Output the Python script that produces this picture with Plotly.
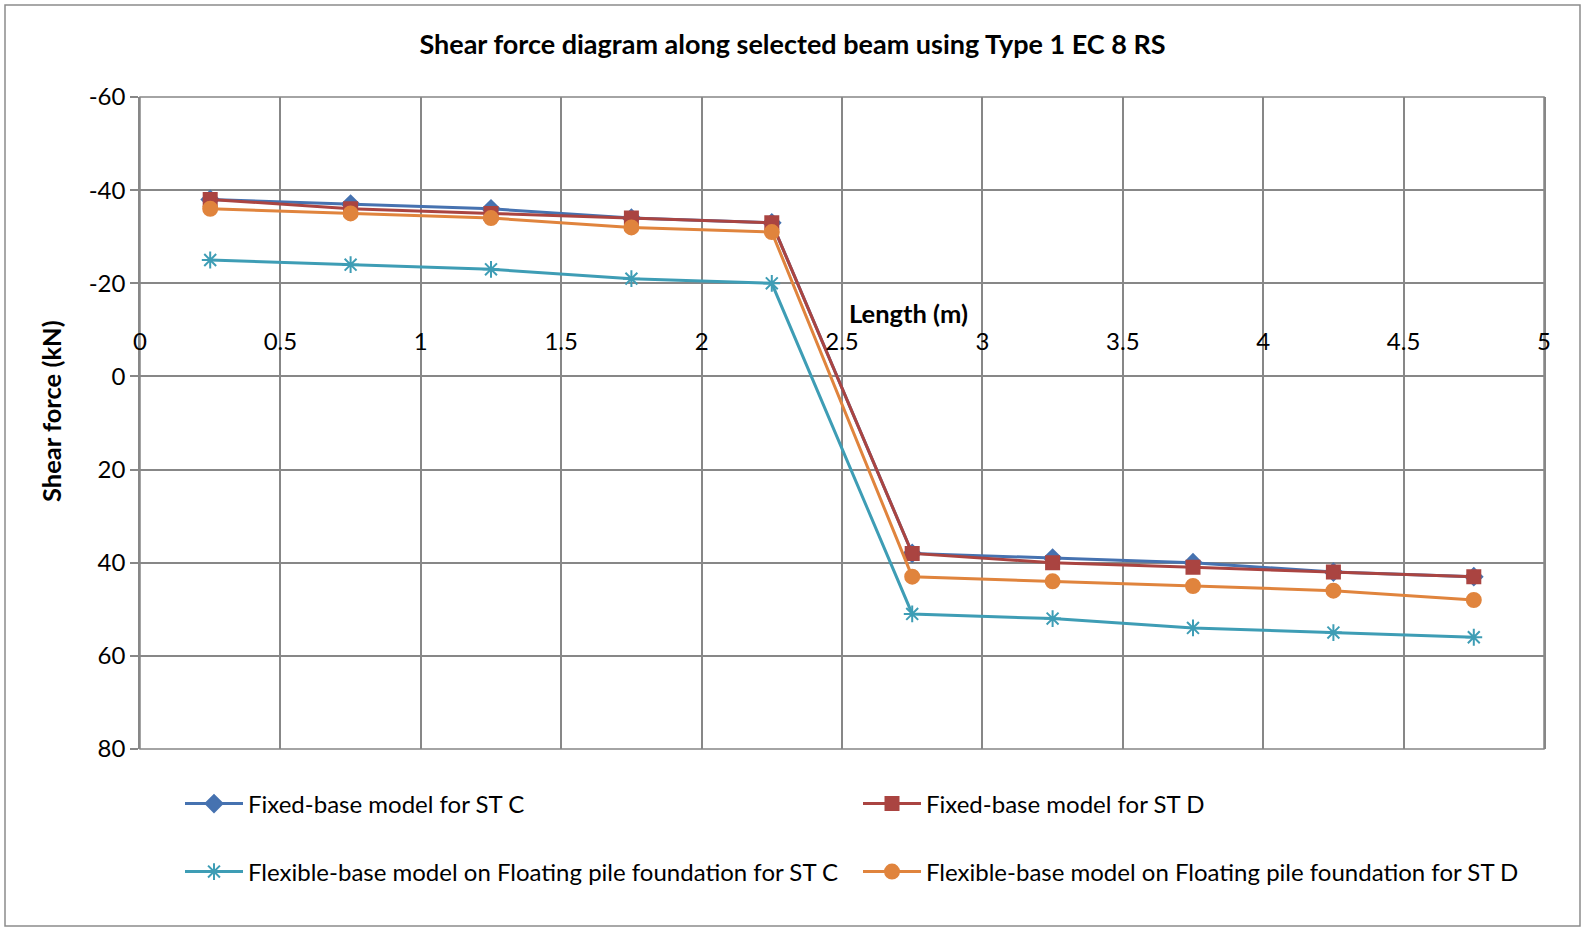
import plotly.graph_objects as go

# Positions along the beam (m)
length_m = [0.25, 0.75, 1.25, 1.75, 2.25, 2.75, 3.25, 3.75, 4.25, 4.75]

# Shear force (kN) for each model
fixed_st_c = [-38, -37, -36, -34, -33, 38, 39, 40, 42, 43]
fixed_st_d = [-38, -36, -35, -34, -33, 38, 40, 41, 42, 43]
flex_st_c = [-25, -24, -23, -21, -20, 51, 52, 54, 55, 56]
flex_st_d = [-36, -35, -34, -32, -31, 43, 44, 45, 46, 48]

series_names = [
    "Fixed-base model for ST C",
    "Fixed-base model for ST D",
    "Flexible-base model on Floating pile foundation for ST C",
    "Flexible-base model on Floating pile foundation for ST D",
]

x_ticks = [0, 0.5, 1, 1.5, 2, 2.5, 3, 3.5, 4, 4.5, 5]
x_tick_text = ["0", "0.5", "1", "1.5", "2", "2.5", "3", "3.5", "4", "4.5", "5"]
y_ticks = [-60, -40, -20, 0, 20, 40, 60, 80]
y_tick_text = ["-60", "-40", "-20", "0", "20", "40", "60", "80"]

FONT = "Lato"
GRID = "#878787"
TICK_SIZE = 24
BOLD_SIZE = 25.5

W, H = 1585, 931
L, R, T, B = 140, 41, 97, 182
plot_w = W - L - R
plot_h = H - T - B


def px_x(p):
    return (p - L) / plot_w


def px_y(p):
    return (H - B - p) / plot_h


styles = [
    dict(color="#4672B0", symbol="diamond", size=13),
    dict(color="#AA4441", symbol="square", size=13),
    dict(color="#3E9DB5", symbol="asterisk-open", size=14),
    dict(color="#E0843D", symbol="circle", size=14),
]

# One legend per entry so the two-column grid can be placed freely
legend_ids = ["legend", "legend2", "legend3", "legend4"]
legend_spots = [(180, 804), (858, 804), (180, 872), (858, 872)]

fig = go.Figure()
for name, vals, st, lid in zip(series_names, [fixed_st_c, fixed_st_d, flex_st_c, flex_st_d],
                               styles, legend_ids):
    fig.add_trace(go.Scatter(
        x=length_m, y=vals, name=name, mode="lines+markers",
        line=dict(color=st["color"], width=3),
        marker=dict(symbol=st["symbol"], size=st["size"], color=st["color"],
                    line=dict(color=st["color"], width=2)),
        legend=lid,
    ))

zero_pos = (80 - 0) / (80 - (-60))

legend_layout = {}
for lid, (lx, ly) in zip(legend_ids, legend_spots):
    legend_layout[lid] = dict(
        orientation="h", x=px_x(lx), y=px_y(ly), xanchor="left", yanchor="middle",
        bgcolor="rgba(0,0,0,0)", itemwidth=58,
        font=dict(family=FONT, size=TICK_SIZE, color="black"),
    )

fig.update_layout(
    width=W, height=H,
    margin=dict(l=L, r=R, t=T, b=B),
    paper_bgcolor="white", plot_bgcolor="white",
    font=dict(family=FONT, size=TICK_SIZE, color="black"),
    title=dict(text="<b>Shear force diagram along selected beam using Type 1 EC 8 RS</b>",
               x=0.5, xref="container", xanchor="center", y=1 - 45 / H, yanchor="middle",
               font=dict(family=FONT, size=27, color="black")),
    xaxis=dict(
        range=[0, 5], tickvals=x_ticks, ticktext=x_tick_text,
        side="top", anchor="free", position=zero_pos,
        showgrid=True, gridcolor=GRID, gridwidth=1.5,
        showline=False, zeroline=False, ticks="",
        ticklabelstandoff=22,
        tickfont=dict(family=FONT, size=TICK_SIZE, color="black"),
    ),
    yaxis=dict(
        range=[80, -60], tickvals=y_ticks, ticktext=y_tick_text,
        showgrid=True, gridcolor=GRID, gridwidth=1.5,
        zeroline=True, zerolinecolor=GRID, zerolinewidth=1.5,
        showline=True, linecolor=GRID, linewidth=1.5, mirror=True,
        ticks="outside", ticklen=8, tickcolor=GRID, tickwidth=1.5,
        tickfont=dict(family=FONT, size=TICK_SIZE, color="black"),
    ),
    showlegend=True,
    **legend_layout,
)

# Plot area frame
fig.add_shape(type="rect", xref="x domain", yref="y domain", x0=0, x1=1, y0=0, y1=1,
              line=dict(color=GRID, width=1.5), layer="below")

# Outer chart border
fig.add_shape(type="rect", xref="paper", yref="paper",
              x0=px_x(5), x1=px_x(1580), y0=px_y(926), y1=px_y(5),
              line=dict(color="#8C8C8C", width=1.5))

# Axis titles
fig.add_annotation(text="<b>Length (m)</b>", xref="paper", yref="paper",
                   x=px_x(908), y=px_y(313), showarrow=False,
                   xanchor="center", yanchor="middle",
                   font=dict(family=FONT, size=BOLD_SIZE, color="black"))
fig.add_annotation(text="<b>Shear force (kN)</b>", xref="paper", yref="paper",
                   x=px_x(51), y=px_y(411), showarrow=False, textangle=-90,
                   xanchor="center", yanchor="middle",
                   font=dict(family=FONT, size=BOLD_SIZE, color="black"))

fig.write_html("out.html")
